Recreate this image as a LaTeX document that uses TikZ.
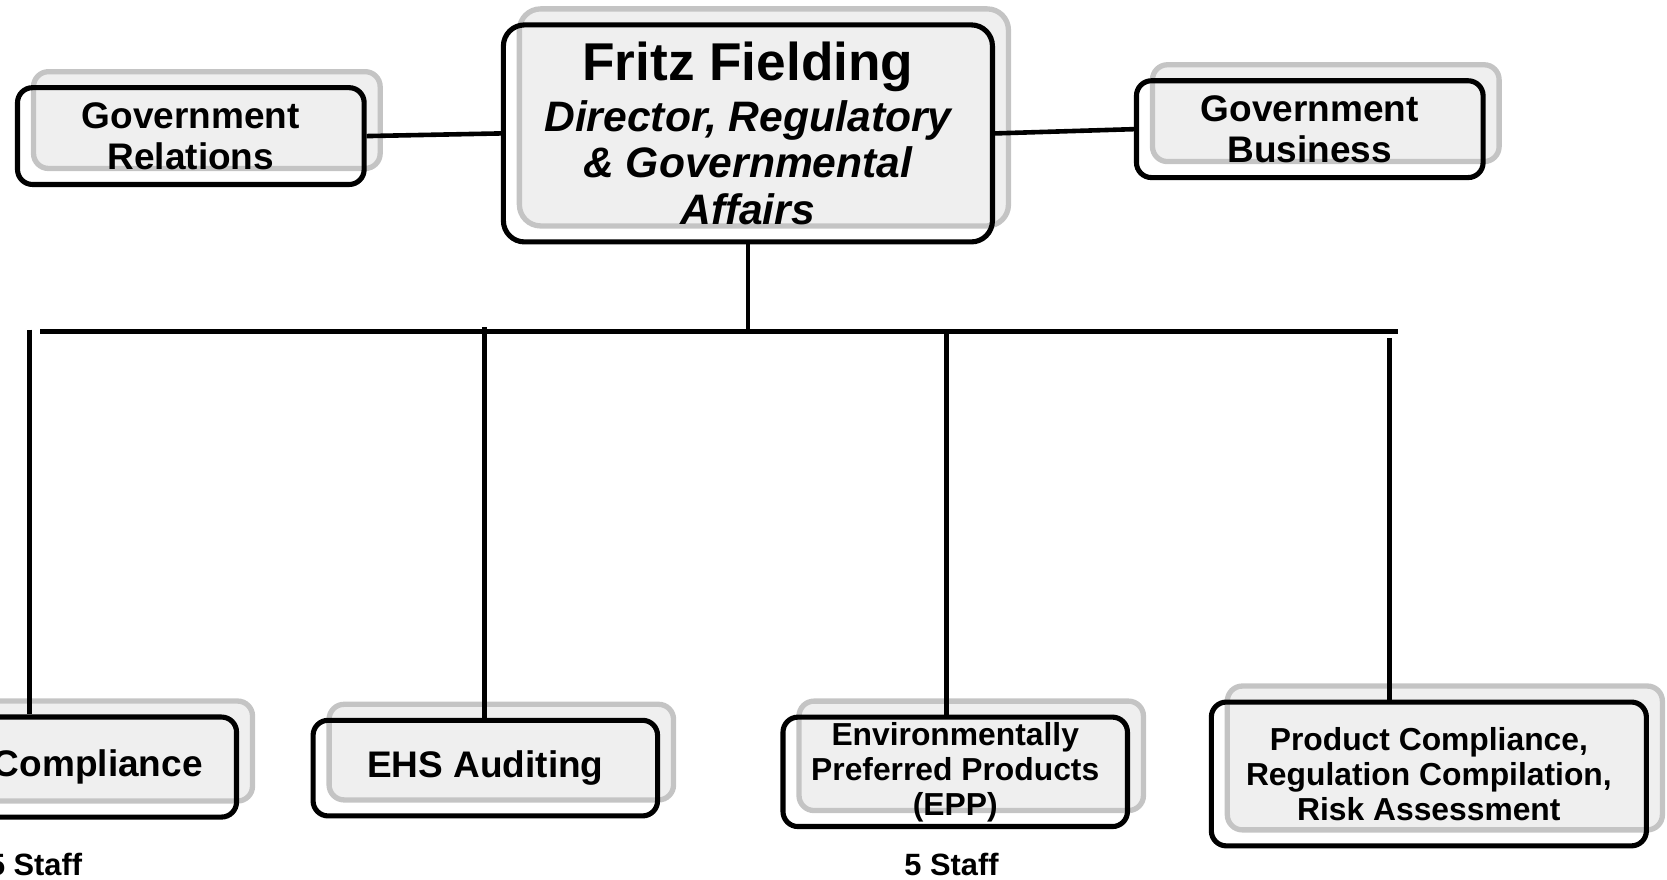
\documentclass[tikz,border=0pt]{standalone}
\usepackage{fontspec}
\setmainfont{Liberation Sans}
\definecolor{shadowfill}{HTML}{EFEFEF}
\definecolor{shadowline}{HTML}{C4C4C4}

\begin{document}
\begin{tikzpicture}[
    x=0.5315pt, y=-0.5315pt,
    unit/.style={rectangle, rounded corners=7.5pt, draw, line width=2.55pt, align=center, inner sep=2pt,
        font=\bfseries\fontsize{18.5}{20.7}\selectfont,
        preaction={fill=shadowfill, draw=shadowline, line width=2.65pt,
            transform canvas={shift={(8pt,8pt)}}}},
    small/.style={font=\bfseries\fontsize{15.9}{17.5}\selectfont},
    staff/.style={font=\bfseries\fontsize{15.4}{17}\selectfont},
    link/.style={line width=2.3pt}
]
\node[unit, rounded corners=10.6pt, minimum width=244.5pt, minimum height=108.5pt,
    font=\bfseries\itshape\fontsize{21.3}{23.4}\selectfont] (boss) at (703.5,125.5)
    {{\upshape\fontsize{26.6}{28.7}\selectfont Fritz Fielding}\\[2.1pt]
     Director, Regulatory\\ \& Governmental\\ Affairs};
\node[unit, minimum width=173.3pt, minimum height=48.4pt] (grel) at (179.5,128) {Government\\Relations};
\node[unit, minimum width=173.3pt, minimum height=48.4pt] (gbus) at (1232,121.5) {Government\\Business};

\node[unit, minimum width=138.7pt, minimum height=50pt] (comp) at (92,721.5) {Compliance};
\node[unit, minimum width=172.2pt, minimum height=47.8pt] (ehs) at (456.5,722.5) {EHS Auditing};
\node[unit, small, minimum width=172.2pt, minimum height=54.7pt] (epp) at (898.5,726)
    {Environmentally\\Preferred Products\\(EPP)};
\node[unit, small, minimum width=217.5pt, minimum height=71.9pt] (prod) at (1344,728)
    {Product Compliance,\\Regulation Compilation,\\Risk Assessment};

\node[staff] (staffA) at (33,813) {5 Staff};
\node[staff] (staffB) at (895,813) {5 Staff};

\coordinate (busL) at (38,312);
\coordinate (busR) at (1315,312);
\coordinate (tapA) at (28,310);
\coordinate (tapB) at (456,308);
\coordinate (tapC) at (890,314);
\coordinate (tapD) at (1307,318);

\draw[link] (grel.east) -- (boss.west);
\draw[link] (boss.east) -- (gbus.west);
\draw[link] (boss.south) -- (boss.south |- busL);
\draw[link] (busL) -- (busR);
\foreach \t/\b in {tapA/comp, tapB/ehs, tapC/epp, tapD/prod}
    \draw[link] (\t) -- (\t |- \b.north);

% page frame
\pgfresetboundingbox
\useasboundingbox (0,0) rectangle (1568,827);
\end{tikzpicture}
\end{document}
